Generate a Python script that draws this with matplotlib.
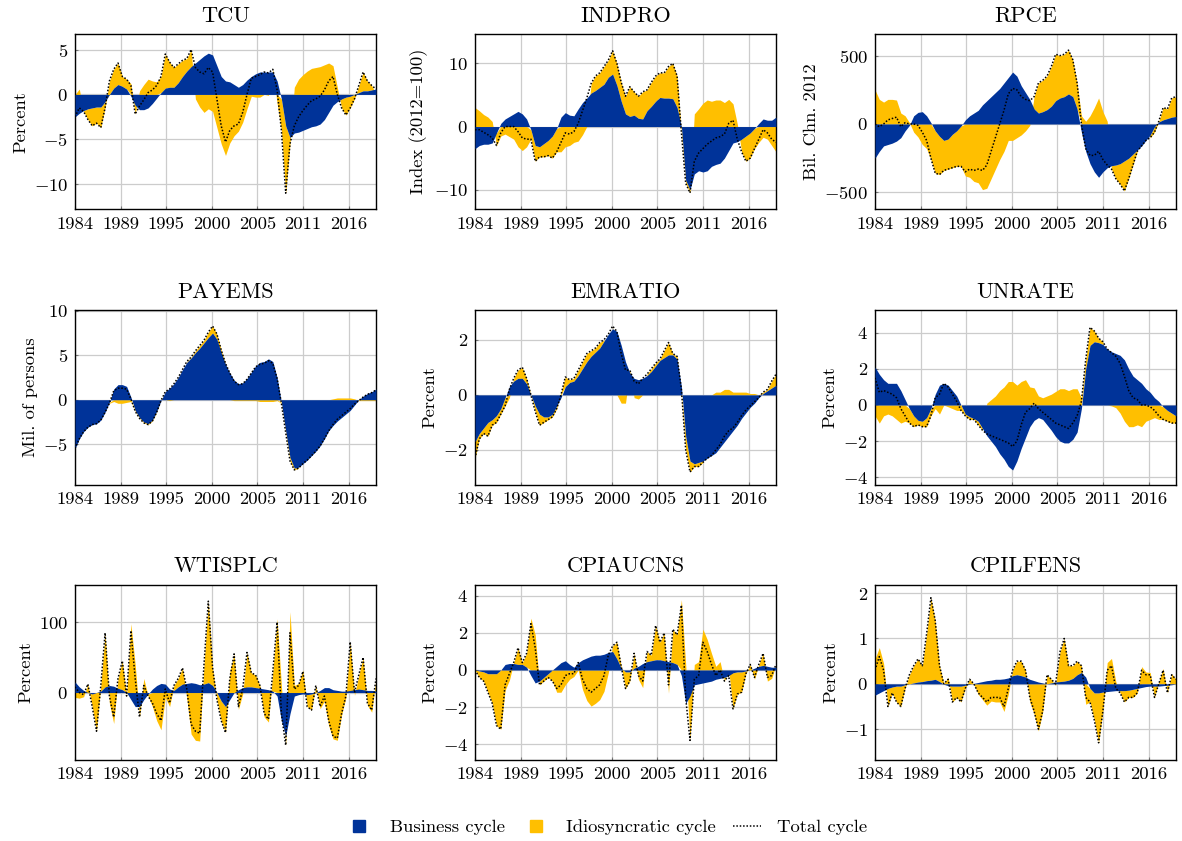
import numpy as np
import matplotlib
matplotlib.use("Agg")
import matplotlib.pyplot as plt
from matplotlib.lines import Line2D

plt.rcParams['font.family'] = 'cmr10'
plt.rcParams['mathtext.fontset'] = 'cm'
plt.rcParams['axes.formatter.use_mathtext'] = True
plt.rcParams['font.size'] = 13.4
plt.rcParams['axes.unicode_minus'] = True

BLUE = '#003399'
YELLOW = '#FFBF00'

# ---- time axis (semi-annual readings, 1984 to early 2019) ----
start_year = 1984.0
end_year = 2019.2
n_points = 71
tick_labels = ['1984', '1989', '1995', '2000', '2005', '2011', '2016']
tick_step_years = 64 / 12

titles = ['TCU', 'INDPRO', 'RPCE', 'PAYEMS', 'EMRATIO', 'UNRATE',
          'WTISPLC', 'CPIAUCNS', 'CPILFENS']
ylabels = ['Percent', 'Index (2012=100)', 'Bil. Chn. 2012', 'Mil. of persons',
           'Percent', 'Percent', 'Percent', 'Percent', 'Percent']

# ---- business cycle (blue) and total cycle (dotted) values ----
tcu_business = [-2.5, -2.1, -1.8, -1.6, -1.5, -1.4, -1.4, -0.8, 0.0, 0.7,
                1.1, 0.9, 0.6, -0.2, -1.2, -1.7, -1.7, -1.5, -1.0, -0.4,
                0.2, 0.7, 0.8, 0.8, 1.3, 2.0, 2.6, 3.1, 3.5, 3.9,
                4.3, 4.6, 4.4, 3.2, 2.0, 1.5, 1.4, 1.1, 0.8, 1.1,
                1.6, 2.0, 2.3, 2.5, 2.5, 2.5, 2.5, 1.5, -0.5, -3.5,
                -4.8, -4.3, -4.2, -4.0, -3.8, -3.6, -3.5, -3.3, -2.8, -2.0,
                -1.2, -0.8, -0.5, -0.3, -0.2, 0.0, 0.2, 0.4, 0.4, 0.5, 0.6]
tcu_total = [-2.5, -1.5, -1.9, -2.8, -3.5, -3.2, -3.7, -1.5, 1.5, 2.8,
             3.5, 2.0, 1.7, 1.0, -2.2, -1.3, -0.6, 0.2, 0.5, 1.0,
             2.0, 4.5, 3.6, 3.0, 3.4, 3.8, 4.0, 5.0, 3.0, 2.5,
             2.3, 3.0, 2.5, -0.5, -3.5, -5.3, -4.0, -3.5, -3.3, -2.0,
             0.0, 1.8, 2.0, 2.2, 2.5, 2.4, 2.8, 0.5, -4.0, -11.0,
             -5.5, -3.5, -2.5, -1.8, -1.2, -0.7, -0.5, -0.2, 0.5, 1.5,
             2.0, 0.0, -1.5, -2.3, -1.5, -0.5, 1.0, 2.5, 1.5, 1.0, 0.6]

indpro_business = [-3.5, -3.0, -2.8, -2.8, -2.6, -1.0, 0.5, 1.2, 1.6, 2.0,
                   2.4, 2.0, 1.2, -0.5, -3.0, -3.2, -2.7, -2.2, -1.5, -0.3,
                   1.5, 2.2, 1.8, 1.7, 2.8, 3.8, 4.5, 5.3, 5.7, 6.2,
                   6.7, 7.8, 8.3, 6.5, 4.0, 2.0, 1.6, 1.8, 1.3, 1.2,
                   2.5, 3.2, 4.0, 4.6, 4.5, 4.5, 4.4, 3.0, 0.0, -8.5,
                   -10.0, -7.5, -7.0, -7.2, -7.0, -6.3, -6.0, -5.8, -5.0, -3.8,
                   -2.6, -2.4, -2.0, -1.5, -1.0, -0.3, 0.5, 1.2, 1.0, 1.0, 1.5]
indpro_total = [-0.5, -0.5, -0.9, -1.3, -1.8, -3.0, -1.0, 0.0, 0.0, 0.0,
                -0.8, -1.8, -2.0, -2.0, -5.5, -4.8, -4.8, -4.6, -5.0, -4.0,
                -2.5, -1.0, -1.2, -0.8, 0.5, 2.5, 4.5, 6.8, 8.0, 8.5,
                9.5, 10.5, 12.0, 10.0, 7.0, 4.8, 6.3, 5.5, 4.8, 5.5,
                5.8, 7.0, 8.0, 8.5, 8.5, 9.5, 10.0, 8.0, -1.0, -9.0,
                -10.5, -5.5, -4.2, -3.5, -2.8, -2.3, -1.8, -1.6, -1.2, 0.5,
                1.0, -2.0, -4.0, -5.5, -5.0, -3.5, -2.0, -0.5, -1.0, -2.0, -2.5]

rpce_business = [-250, -200, -160, -150, -140, -125, -100, -50, -10, 60,
                 85, 90, 60, 10, -50, -90, -120, -110, -75, -50,
                 -15, 30, 60, 80, 100, 140, 170, 200, 230, 260,
                 300, 340, 380, 350, 280, 230, 180, 110, 80, 90,
                 105, 130, 170, 190, 200, 220, 200, 110, -60, -200,
                 -290, -350, -390, -350, -320, -305, -300, -290, -270, -250,
                 -220, -190, -160, -120, -80, -20, 15, 30, 40, 50, 55]
rpce_total = [0, -20, 0, 30, 40, 50, -20, 10, 0, 0,
              -10, -60, -120, -250, -360, -370, -340, -330, -320, -310,
              -310, -350, -330, -340, -330, -340, -300, -200, -100, 0,
              100, 220, 260, 250, 200, 180, 170, 200, 300, 320,
              350, 420, 510, 500, 510, 540, 470, 300, 0, -180,
              -230, -230, -200, -260, -300, -330, -400, -440, -490, -400,
              -300, -200, -160, -120, -100, -60, 20, 120, 110, 190, 200]

payems_business = [-5.5, -4.4, -3.6, -3.1, -2.8, -2.7, -2.3, -1.4, -0.3, 1.2,
                   1.7, 1.7, 1.5, 0.3, -1.2, -2.0, -2.5, -2.7, -2.3, -1.3,
                   -0.1, 0.9, 1.3, 1.8, 2.5, 3.4, 4.2, 4.7, 5.3, 5.8,
                   6.4, 7.0, 7.5, 6.8, 5.3, 4.0, 3.0, 2.2, 1.8, 1.9,
                   2.4, 3.1, 3.8, 4.2, 4.3, 4.6, 4.3, 2.5, -0.3, -3.5,
                   -6.5, -7.7, -7.6, -7.2, -6.8, -6.3, -5.8, -5.2, -4.4, -3.5,
                   -2.9, -2.4, -2.0, -1.6, -1.2, -0.6, 0.0, 0.4, 0.7, 0.9, 1.2]
payems_total = [-5.5, -4.4, -3.6, -3.1, -2.8, -2.7, -2.3, -1.4, -0.4, 1.0,
                1.3, 1.3, 1.2, 0.1, -1.3, -2.1, -2.6, -2.8, -2.4, -1.4,
                -0.1, 0.9, 1.2, 1.8, 2.5, 3.4, 4.3, 4.8, 5.5, 6.1,
                6.7, 7.6, 8.3, 7.4, 5.6, 4.1, 3.0, 2.1, 1.7, 1.8,
                2.3, 3.0, 3.7, 4.0, 4.1, 4.4, 4.1, 2.4, -0.4, -3.7,
                -6.9, -7.9, -7.7, -7.2, -6.8, -6.3, -5.8, -5.2, -4.4, -3.5,
                -2.8, -2.2, -1.8, -1.4, -1.0, -0.5, -0.1, 0.3, 0.6, 0.8, 1.1]

emratio_business = [-1.7, -1.4, -1.2, -1.0, -0.9, -0.75, -0.5, -0.1, 0.3, 0.5,
                    0.6, 0.6, 0.4, 0.0, -0.4, -0.7, -0.8, -0.8, -0.7, -0.4,
                    -0.1, 0.3, 0.45, 0.5, 0.7, 0.95, 1.2, 1.4, 1.55, 1.7,
                    1.95, 2.2, 2.4, 2.3, 1.8, 1.2, 0.8, 0.6, 0.55, 0.6,
                    0.7, 0.85, 1.05, 1.25, 1.35, 1.45, 1.45, 1.3, 0.3, -1.5,
                    -2.4, -2.5, -2.45, -2.4, -2.3, -2.2, -2.1, -1.9, -1.7, -1.5,
                    -1.3, -1.1, -0.85, -0.65, -0.45, -0.3, -0.1, 0.05, 0.15, 0.25, 0.35]
emratio_total = [-2.3, -1.6, -1.4, -1.5, -1.1, -1.0, -0.7, -0.4, 0.2, 0.6,
                 0.9, 1.0, 0.6, 0.0, -0.6, -1.1, -1.0, -0.9, -0.8, -0.5,
                 0.0, 0.65, 0.55, 0.6, 0.9, 1.2, 1.5, 1.6, 1.7, 1.9,
                 2.0, 2.2, 2.5, 2.3, 1.5, 0.9, 0.9, 0.5, 0.4, 0.6,
                 0.75, 0.95, 1.15, 1.3, 1.6, 1.9, 1.5, 1.4, 0.2, -2.0,
                 -2.8, -2.6, -2.6, -2.45, -2.3, -2.2, -2.0, -1.8, -1.5, -1.3,
                 -1.2, -1.0, -0.75, -0.55, -0.4, -0.25, -0.1, 0.1, 0.2, 0.5, 0.75]

unrate_business = [2.1, 1.7, 1.4, 1.2, 1.2, 1.2, 0.8, 0.3, -0.2, -0.6,
                   -0.85, -0.9, -0.7, -0.2, 0.6, 1.1, 1.2, 1.1, 0.8, 0.5,
                   0.0, -0.5, -0.65, -0.75, -0.9, -1.3, -1.7, -2.0, -2.3, -2.7,
                   -3.0, -3.4, -3.6, -3.1, -2.4, -1.8, -1.2, -0.85, -0.7, -0.8,
                   -1.1, -1.4, -1.75, -2.0, -2.1, -2.1, -1.9, -1.5, -0.2, 2.0,
                   3.3, 3.5, 3.45, 3.35, 3.1, 2.95, 2.85, 2.75, 2.5, 2.0,
                   1.6, 1.4, 1.2, 0.9, 0.7, 0.4, 0.2, -0.1, -0.3, -0.45, -0.6]
unrate_total = [1.5, 0.7, 0.8, 0.7, 0.6, 0.4, -0.2, -0.6, -1.0, -1.2,
                -1.1, -1.2, -1.2, -0.6, 0.4, 0.6, 1.2, 1.0, 0.6, 0.2,
                -0.3, -0.6, -0.8, -0.8, -1.1, -1.4, -1.6, -1.7, -1.8, -1.9,
                -2.0, -2.1, -2.3, -2.0, -1.1, -0.4, -0.2, 0.1, -0.2, -0.4,
                -0.6, -0.8, -1.0, -1.1, -1.2, -1.3, -1.0, -0.6, 0.2, 2.5,
                4.3, 4.1, 3.7, 3.5, 3.1, 2.9, 2.7, 2.3, 1.6, 0.8,
                0.4, 0.3, 0.0, 0.0, -0.1, -0.3, -0.6, -0.8, -0.9, -1.0, -1.0]

wti_business = [15, 8, 3, 0, -2, 0, 2, 8, 10, 9,
                6, 4, 0, -10, -20, -20, -10, -2, 5, 10,
                13, 12, 5, 3, 8, 12, 13, 14, 13, 11,
                12, 14, 10, 0, -12, -20, -10, 0, 4, 7,
                8, 8, 7, 6, 5, 4, 2, -5, -40, -62,
                -30, -5, -3, -2, -3, -2, 0, 3, 7, 7,
                4, 3, 2, 2, 3, 4, 5, 4, 3, 3, 2]
wti_total = [8, 0, -3, 12, -20, -55, 10, 85, -5, -35,
             20, 45, -5, 88, 20, -35, 10, -5, -15, -30,
             -40, 5, -15, 10, 20, 35, 5, -45, -55, -58,
             40, 130, 35, -10, -40, -57, 20, 55, -20, 5,
             57, 28, 25, 10, -30, -38, 30, 100, -30, -75,
             85, 5, 10, 30, -20, -25, 10, -20, -5, -40,
             -62, -65, -30, -5, 72, 0, 25, 50, -15, -25, 20]

cpi_business = [0.0, -0.05, -0.1, -0.2, -0.2, -0.2, 0.0, 0.3, 0.35, 0.35,
                0.3, 0.3, 0.15, -0.3, -0.7, -0.6, -0.4, -0.2, 0.0, 0.2,
                0.4, 0.5, 0.3, 0.15, 0.4, 0.55, 0.65, 0.75, 0.8, 0.8,
                0.85, 0.95, 1.0, 0.6, 0.1, -0.1, -0.1, 0.1, 0.2, 0.35,
                0.45, 0.5, 0.55, 0.55, 0.5, 0.45, 0.4, 0.3, -0.3, -1.8,
                -1.4, -0.8, -0.75, -0.7, -0.65, -0.6, -0.5, -0.45, -0.4, -0.3,
                -0.15, -0.1, -0.1, -0.05, 0.0, 0.1, 0.2, 0.25, 0.2, 0.15, 0.15]
cpi_total = [0.0, -0.4, -0.6, -1.2, -1.8, -3.0, -3.2, -0.8, -0.2, 0.4,
             1.2, 0.4, 0.9, 2.5, 1.2, -0.8, -0.6, -0.4, -0.6, -1.0,
             -0.8, -0.3, -0.2, -0.2, 0.4, -0.5, -1.0, -1.2, -1.0, -0.8,
             -0.3, 0.8, 1.3, 1.5, 0.2, -1.0, -0.6, 0.9, -0.3, -0.6,
             1.0, 0.8, 2.4, 1.5, 2.0, -0.8, 2.2, 1.9, 3.5, -1.5,
             -3.8, -0.5, -0.3, 1.5, 1.0, 0.3, -0.3, 0.0, -0.6, -0.3,
             -2.1, -1.3, -1.2, -0.2, 0.3, -0.4, 0.3, 0.9, -0.4, -0.3, 0.3]

core_business = [-0.25, -0.2, -0.15, -0.1, -0.07, -0.05, -0.05, -0.02, 0.0, 0.02,
                 0.04, 0.05, 0.07, 0.08, 0.1, 0.05, -0.01, -0.04, -0.05, -0.05,
                 -0.05, -0.03, -0.01, 0.01, 0.03, 0.05, 0.07, 0.08, 0.1, 0.1,
                 0.11, 0.13, 0.18, 0.2, 0.18, 0.15, 0.1, 0.07, 0.04, 0.02,
                 0.0, 0.02, 0.04, 0.05, 0.06, 0.08, 0.12, 0.2, 0.25, 0.15,
                 -0.1, -0.2, -0.2, -0.18, -0.17, -0.16, -0.15, -0.15, -0.15, -0.14,
                 -0.12, -0.1, -0.08, -0.06, -0.05, -0.05, -0.05, -0.04, -0.03, -0.02, 0.0]
core_total = [0.3, 0.6, 0.3, -0.5, -0.2, -0.4, -0.5, -0.1, 0.2, 0.4,
              0.55, 0.4, 1.1, 1.9, 1.4, 0.4, 0.0, 0.1, -0.4, -0.3,
              -0.4, -0.1, 0.1, 0.0, -0.2, -0.3, -0.4, -0.3, -0.3, -0.3,
              -0.5, -0.1, 0.3, 0.5, 0.5, 0.3, -0.3, -0.6, -1.0, -0.6,
              0.2, 0.1, 0.0, 0.7, 1.0, 0.4, 0.4, 0.5, 0.4, -0.3,
              -0.4, -0.8, -1.3, -0.6, 0.3, 0.4, -0.1, -0.2, -0.4, -0.3,
              -0.3, -0.2, 0.3, 0.2, 0.2, -0.3, 0.0, 0.3, -0.2, 0.2, 0.1]

business_series = [tcu_business, indpro_business, rpce_business,
                   payems_business, emratio_business, unrate_business,
                   wti_business, cpi_business, core_business]
total_series = [tcu_total, indpro_total, rpce_total,
                payems_total, emratio_total, unrate_total,
                wti_total, cpi_total, core_total]

yticks = [[-10, -5, 0, 5], [-10, 0, 10], [-500, 0, 500],
          [-5, 0, 5, 10], [-2, 0, 2], [-4, -2, 0, 2, 4],
          [0, 100], [-4, -2, 0, 2, 4], [-1, 0, 1, 2]]
ylims = [(-12.8, 6.7), (-13.1, 14.6), (-624, 656),
         (-9.6, 10.1), (-3.27, 3.08), (-4.43, 5.26),
         (-96, 153), (-4.86, 4.59), (-1.68, 2.18)]

# ---- layout ----
W, H = 1182, 841
fig = plt.figure(figsize=(W / 100, H / 100), dpi=100)
col_left = [75, 475, 875]
row_top = [34.3, 310, 585]
ax_w, ax_h = 301, 175

x = np.linspace(start_year, end_year, n_points)
tick_pos = [start_year + j * tick_step_years for j in range(len(tick_labels))]

for idx in range(9):
    r, c = divmod(idx, 3)
    left = col_left[c] / W
    bottom = 1 - (row_top[r] + ax_h) / H
    ax = fig.add_axes([left, bottom, ax_w / W, ax_h / H])
    b = np.array(business_series[idx], dtype=float)
    t = np.array(total_series[idx], dtype=float)
    idio = t - b
    base = np.where(b * idio > 0, b, 0.0)
    ax.fill_between(x, base, base + idio, color=YELLOW, lw=0, zorder=2)
    ax.fill_between(x, 0, b, color=BLUE, lw=0, zorder=3)
    ax.plot(x, t, color='black', ls=(0, (1, 1.2)), lw=1.1, zorder=4)
    ax.set_xlim(start_year, end_year)
    ax.set_ylim(*ylims[idx])
    ax.set_xticks(tick_pos)
    ax.set_xticklabels(tick_labels)
    ax.set_yticks(yticks[idx])
    ax.grid(True, color='#cccccc', lw=0.9)
    ax.set_axisbelow(True)
    ax.tick_params(direction='in', length=2.5, width=0.8, color='#777777',
                   pad=5)
    for s in ax.spines.values():
        s.set_linewidth(1.0)
    ax.set_title(titles[idx], pad=9)
    ax.set_ylabel(ylabels[idx])

handles = [Line2D([], [], marker='s', ls='none', color=BLUE, markersize=8),
           Line2D([], [], marker='s', ls='none', color=YELLOW, markersize=8),
           Line2D([], [], color='black', ls=(0, (1, 1.2)), lw=1.1)]
fig.legend(handles, ['Business cycle', 'Idiosyncratic cycle', 'Total cycle'],
           loc='center', bbox_to_anchor=(0.513, 0.0166), ncol=3, frameon=False,
           handlelength=1.5, handletextpad=0.9, columnspacing=0.9)

fig.savefig('out.png', dpi=100)
